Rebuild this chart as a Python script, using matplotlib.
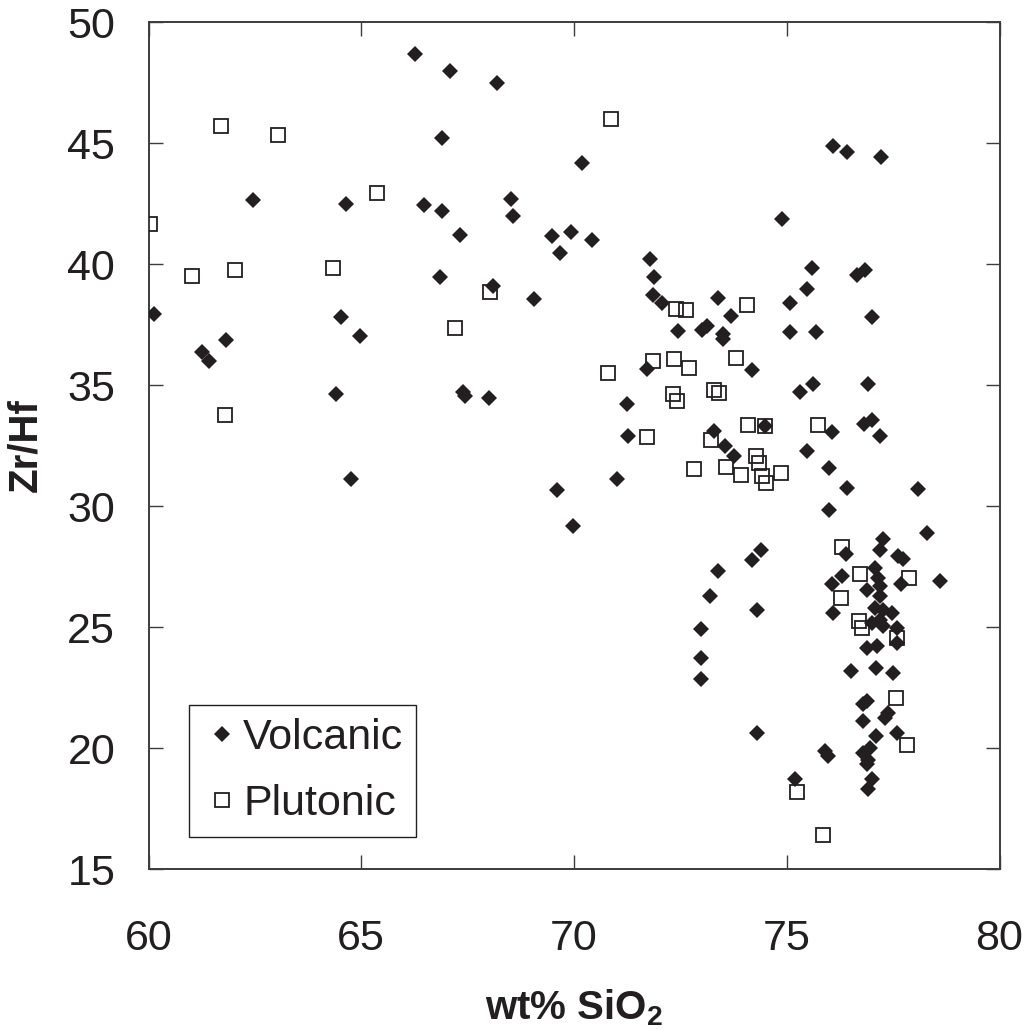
import matplotlib
matplotlib.use("Agg")
import matplotlib.pyplot as plt
import numpy as np

plt.rcParams['font.family'] = ['Liberation Sans', 'DejaVu Sans']
plt.rcParams['mathtext.fontset'] = 'custom'
plt.rcParams['mathtext.rm'] = 'Liberation Sans'
plt.rcParams['mathtext.bf'] = 'Liberation Sans:bold'

# Volcanic samples (wt% SiO2, Zr/Hf)
volcanic_sio2 = [
    66.26, 67.09, 68.20, 66.90, 62.46, 64.63, 66.48, 66.90, 68.51, 68.57,
    67.33, 69.48, 66.85, 68.09, 69.06, 60.13, 64.52, 64.97, 61.83, 61.25,
    61.42, 64.40, 67.40, 67.44, 67.99, 64.76, 69.59, 69.68,
    70.18, 76.08, 76.42, 77.21, 74.89, 69.94, 70.42, 71.78, 71.89, 71.86,
    72.06, 73.39, 73.69, 72.45, 73.00, 73.12, 73.49, 73.51, 75.59, 75.48,
    76.65, 76.84, 75.08, 77.00, 75.08, 75.69, 71.72, 74.19, 71.25, 75.31,
    75.62, 76.90, 71.28, 73.30, 73.55, 73.75, 74.48, 76.06, 76.82, 77.01,
    77.19, 75.47, 75.99, 71.02, 76.42, 78.09,
    75.99, 69.97, 78.29, 77.27, 77.18, 76.39, 77.62, 77.74, 74.39, 74.19,
    73.39, 77.07, 77.15, 77.68, 78.59, 76.29, 76.06, 76.88, 77.19, 77.20,
    73.20, 74.29, 76.09, 77.07, 77.27, 77.47, 77.19, 77.00, 77.27, 77.58,
    77.58, 76.88, 77.11, 72.98, 72.98, 72.98, 76.51, 77.10, 77.49, 76.80,
    76.88, 76.80, 77.39, 77.31, 74.29, 77.58, 77.10, 76.96, 76.80, 76.92,
    76.88, 75.90, 75.98, 75.19, 77.00, 76.92,
]
volcanic_zrhf = [
    48.69, 47.99, 47.49, 45.19, 42.64, 42.49, 42.42, 42.21, 42.69, 41.98,
    41.22, 41.15, 39.46, 39.08, 38.56, 37.94, 37.82, 37.02, 36.87, 36.36,
    35.98, 34.61, 34.70, 34.54, 34.45, 31.12, 30.68, 40.46,
    44.17, 44.87, 44.64, 44.44, 41.85, 41.33, 41.01, 40.19, 39.46, 38.71,
    38.40, 38.59, 37.86, 37.22, 37.29, 37.43, 37.09, 36.91, 39.83, 38.95,
    39.55, 39.74, 38.40, 37.80, 37.20, 37.20, 35.68, 35.63, 34.22, 34.70,
    35.05, 35.05, 32.91, 33.12, 32.47, 32.06, 33.30, 33.05, 33.40, 33.57,
    32.91, 32.27, 31.58, 31.12, 30.75, 30.71,
    29.85, 29.17, 28.89, 28.62, 28.18, 28.00, 27.93, 27.82, 28.20, 27.76,
    27.31, 27.45, 27.03, 26.76, 26.89, 27.10, 26.76, 26.55, 26.69, 26.30,
    26.27, 25.72, 25.56, 25.79, 25.72, 25.59, 25.31, 25.17, 25.03, 24.97,
    24.35, 24.14, 24.21, 24.90, 23.73, 22.86, 23.20, 23.29, 23.08, 21.80,
    21.93, 21.11, 21.46, 21.25, 20.63, 20.63, 20.49, 20.01, 19.80, 19.52,
    19.32, 19.87, 19.66, 18.70, 18.70, 18.29,
]

# Plutonic samples (wt% SiO2, Zr/Hf)
plutonic_sio2 = [
    61.70, 63.04, 65.37, 60.03, 61.01, 62.04, 64.34, 68.03, 67.20, 61.79,
    70.87, 72.40, 72.62, 74.06, 70.81, 71.85, 72.34, 72.70, 73.80, 72.32,
    72.43, 73.28, 73.41, 71.72, 73.21, 74.08, 74.48, 75.74, 74.27, 74.35,
    72.83, 73.58, 73.92, 74.41, 74.52, 74.86, 76.29, 76.71, 77.87, 76.27,
    76.70, 76.76, 77.58, 77.56, 77.82, 75.25, 75.84,
]
plutonic_zrhf = [
    45.72, 45.32, 42.94, 41.67, 39.51, 39.74, 39.84, 38.85, 37.36, 33.78,
    46.01, 38.16, 38.12, 38.30, 35.50, 36.01, 36.08, 35.69, 36.11, 34.61,
    34.32, 34.81, 34.68, 32.86, 32.71, 33.35, 33.30, 33.35, 32.06, 31.79,
    31.54, 31.62, 31.27, 31.23, 30.96, 31.37, 28.31, 27.21, 27.03, 26.21,
    25.24, 24.97, 24.54, 22.07, 20.14, 18.19, 16.40,
]

x_ticks = [60, 65, 70, 75, 80]
y_ticks = [15, 20, 25, 30, 35, 40, 45, 50]

ink = '#231f20'
spine_c = '#3c3c3c'

fig = plt.figure(figsize=(10.28, 10.30), dpi=100)
ax = fig.add_axes([0.1445, 0.1563, 0.8278, 0.8223])

ax.plot(volcanic_sio2, volcanic_zrhf, linestyle='none', marker='D',
        markersize=8.5, color=ink, markeredgewidth=0, label='Volcanic', zorder=3)
ax.plot(plutonic_sio2, plutonic_zrhf, linestyle='none', marker='s',
        markersize=9.5, markerfacecolor='none', markeredgecolor=ink,
        markeredgewidth=1.3, label='Plutonic', zorder=4)

ax.set_xlim(60, 80)
ax.set_ylim(15, 50)
ax.set_xticks(x_ticks)
ax.set_yticks(y_ticks)

ax.tick_params(axis='both', direction='in', length=10, width=1.0,
               color=spine_c, labelsize=31, labelcolor=ink,
               top=True, right=True)
ax.tick_params(axis='x', pad=36)
ax.tick_params(axis='y', pad=24)
for s in ax.spines.values():
    s.set_color(spine_c)
    s.set_linewidth(1.4)

ax.set_xlabel(r'wt% SiO$_\mathbf{2}$', fontsize=29, fontweight='bold', color=ink)
ax.set_ylabel('Zr/Hf', fontsize=29, fontweight='bold', color=ink)
ax.xaxis.set_label_coords(0.5, -0.14)
ax.yaxis.set_label_coords(-0.122, 0.5)

leg = ax.legend(loc='lower left', bbox_to_anchor=(0.048, 0.038, 0.266, 0.158),
                mode='expand', borderaxespad=0, fontsize=31, frameon=True,
                fancybox=False, framealpha=1, edgecolor=ink, handlelength=0.9,
                handletextpad=0.05, labelspacing=0.6, borderpad=0.3,
                labelcolor=ink)
leg.get_frame().set_linewidth(1.0)

fig.savefig('out.png', dpi=100, facecolor='white')
